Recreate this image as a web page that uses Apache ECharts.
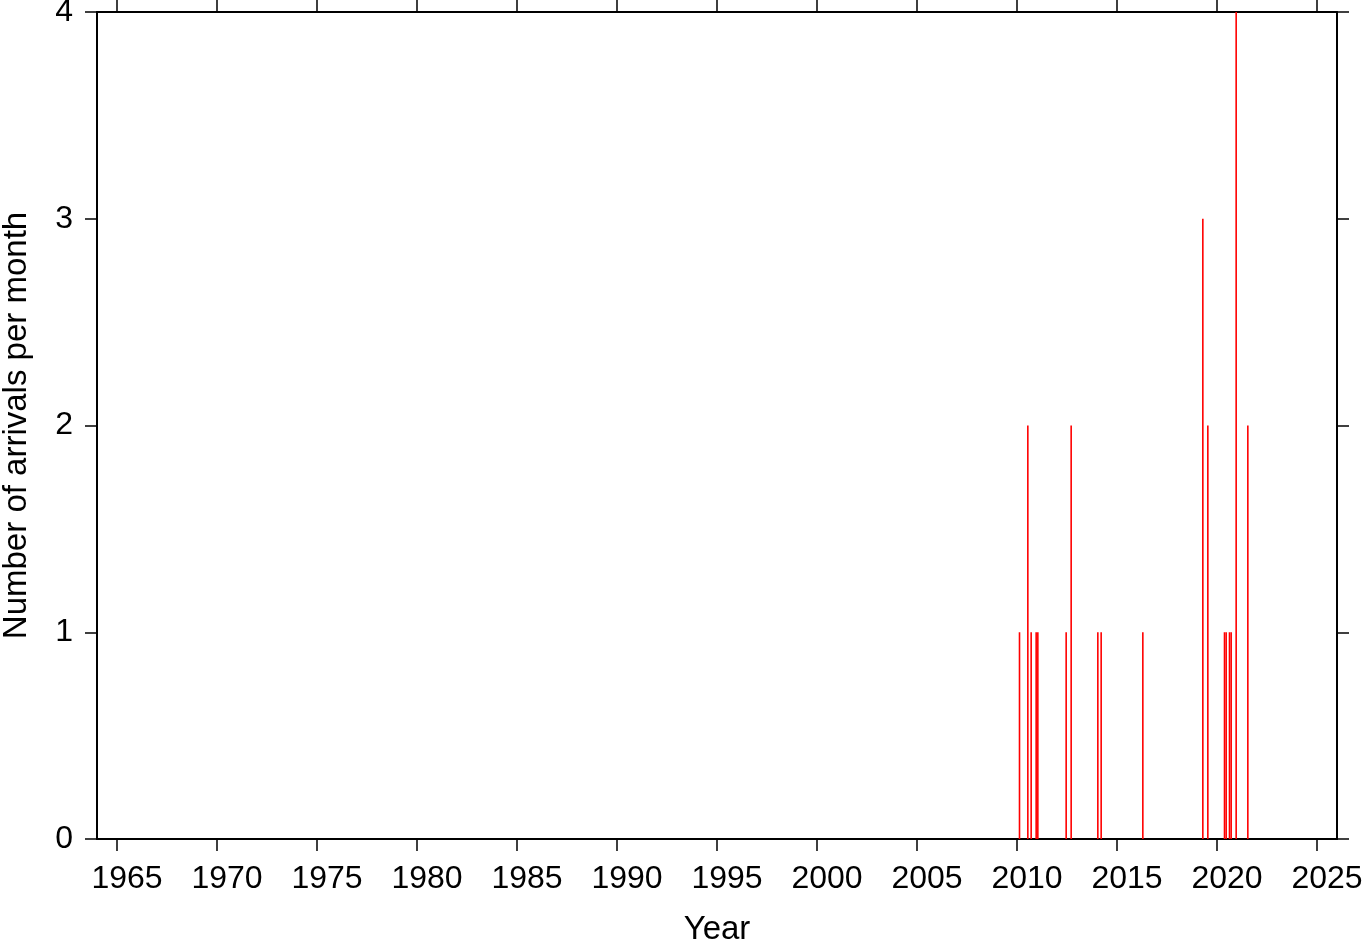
<!DOCTYPE html>
<html><head><meta charset="utf-8">
<script src="https://cdn.jsdelivr.net/npm/echarts@6/dist/echarts.min.js"></script>
<style>html,body{margin:0;padding:0;background:#fff}#c{width:1363px;height:942px}</style>
</head><body><div id="c"></div>
<script>
const arrivalMonths = ['2010-02','2010-07','2010-09','2010-12','2011-01','2012-06','2012-09','2014-01','2014-03','2016-04','2019-04','2019-07','2020-05','2020-06','2020-08','2020-09','2020-12','2021-07'];
const arrivalCounts = [1,2,1,1,1,1,2,1,1,1,3,2,1,1,1,1,4,2];
const yearTicks = [1965,1970,1975,1980,1985,1990,1995,2000,2005,2010,2015,2020,2025];
const countTicks = [0,1,2,3,4];

const data = arrivalMonths.map((m,i)=>{
  const [y,mo] = m.split('-').map(Number);
  return [y + (mo-0.5)/12, arrivalCounts[i]];
});
const font = 'Liberation Sans';
const lineStyle = {color:'#000', width:2};
const tickStyle = {color:'#000', width:1.5};
const chart = echarts.init(document.getElementById('c'));
chart.setOption({
  animation:false,
  grid:{left:97,right:26,top:12,bottom:103,containLabel:false,outerBoundsMode:'none'},
  xAxis:[{
    type:'value', min:1964, max:2026, position:'bottom',
    name:'Year', nameLocation:'middle', nameGap:74,
    nameTextStyle:{fontFamily:font,fontSize:33,color:'#000'},
    axisLine:{show:true,onZero:false,lineStyle},
    axisTick:{show:true,inside:false,length:12,lineStyle:tickStyle,customValues:yearTicks},
    axisLabel:{show:true,margin:24,fontFamily:font,fontSize:32,color:'#000',customValues:yearTicks,
      padding:[0,0,0,20],formatter:v=>String(v)},
    splitLine:{show:false}
  },{
    type:'value', min:1964, max:2026, position:'top',
    axisLine:{show:true,onZero:false,lineStyle},
    axisTick:{show:true,inside:false,length:12,lineStyle:tickStyle,customValues:yearTicks},
    axisLabel:{show:false},
    splitLine:{show:false}
  }],
  yAxis:[{
    type:'value', min:0, max:4, interval:1, position:'left',
    name:'Number of arrivals per month', nameLocation:'middle', nameGap:64,
    nameTextStyle:{fontFamily:font,fontSize:33,color:'#000'},
    axisLine:{show:true,onZero:false,lineStyle},
    axisTick:{show:true,inside:false,length:12,lineStyle:tickStyle,customValues:countTicks},
    axisLabel:{show:true,margin:24,fontFamily:font,fontSize:32,color:'#000',customValues:countTicks,formatter:v=>String(v)},
    splitLine:{show:false}
  },{
    type:'value', min:0, max:4, interval:1, position:'right',
    axisLine:{show:true,onZero:false,lineStyle},
    axisTick:{show:true,inside:false,length:12,lineStyle:tickStyle,customValues:countTicks},
    axisLabel:{show:false},
    splitLine:{show:false}
  }],
  series:[{
    type:'bar', xAxisIndex:0, yAxisIndex:0,
    data:data, barWidth:1.6,
    itemStyle:{color:'#ff0000'}
  }]
});
</script></body></html>
